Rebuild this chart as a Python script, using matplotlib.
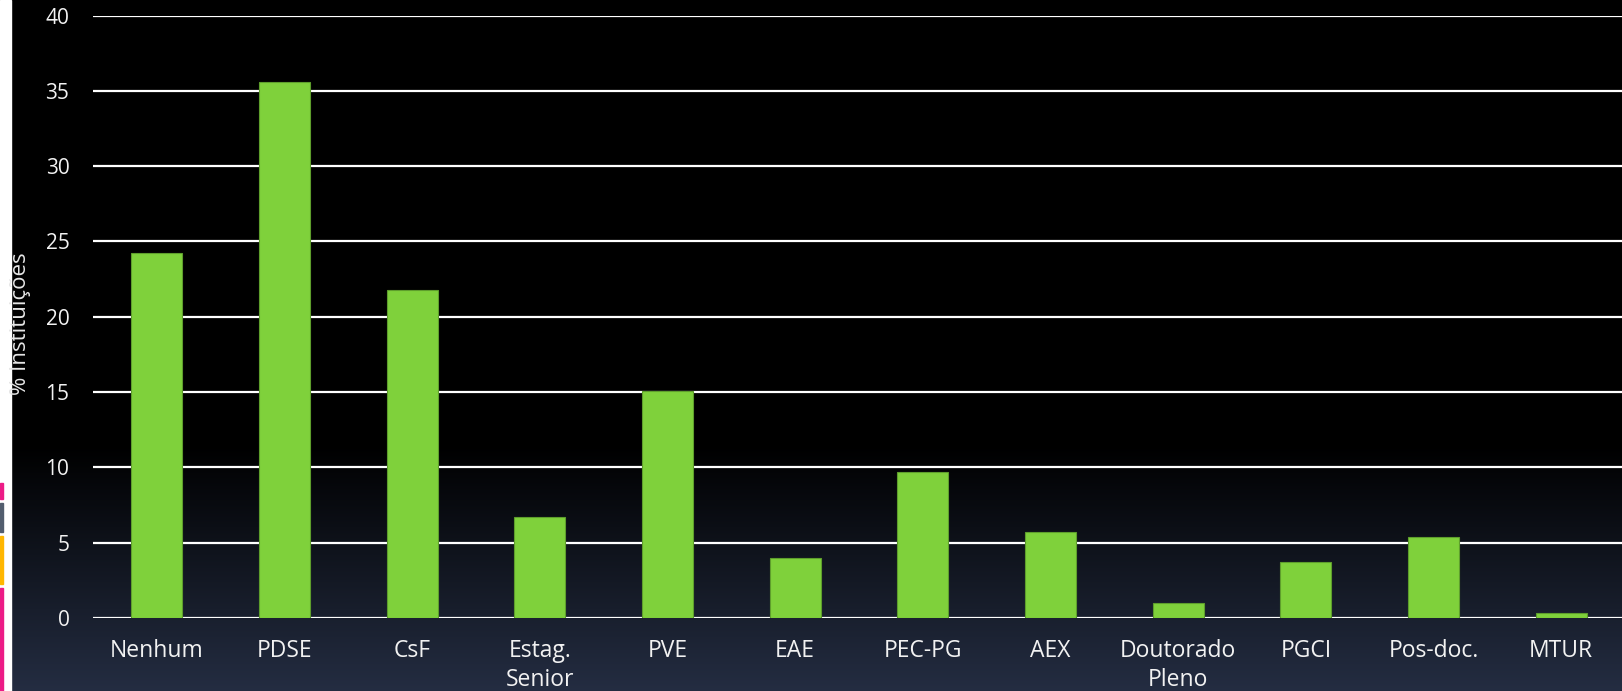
import numpy as np
import matplotlib
matplotlib.use("Agg")
import matplotlib.pyplot as plt
from matplotlib.patches import Rectangle


# ---------- data -----------------------------------------------------------
categories = ["Nenhum", "PDSE", "CsF", "Estag.\nSenior", "PVE", "EAE",
              "PEC-PG", "AEX", "Doutorado\nPleno", "PGCI", "Pos-doc.", "MTUR"]
values = [24.2, 35.6, 21.8, 6.7, 15.1, 4.0, 9.7, 5.7, 1.0, 3.7, 5.4, 0.3]
y_ticks = [0, 5, 10, 15, 20, 25, 30, 35, 40]
y_label = "% Instituições"


# ---------- figure / background -------------------------------------------
W, H = 1622, 691
fig = plt.figure(figsize=(W / 100, H / 100), dpi=100)
fig.patch.set_facecolor("black")
plt.rcParams["font.family"] = ["Open Sans", "DejaVu Sans"]

# vertical gradient: black on top, dark navy at the bottom
rows = np.arange(H)
frac = np.clip((rows - 445) / (H - 445), 0, 1)
bottom_col = np.array([36, 45, 66]) / 255.0
grad = frac[:, None] * bottom_col[None, :]
grad = np.repeat(grad[:, None, :], 2, axis=1)
bg = fig.add_axes([0, 0, 1, 1], zorder=-10)
bg.imshow(grad, aspect="auto", extent=[0, 1, 0, 1], origin="upper")
bg.axis("off")

# white strip + slide accent bars on the left edge
fig.patches.append(Rectangle((0, 0), 11 / W, 1, transform=fig.transFigure,
                             color="white", zorder=-5))
accents = [(483, 499, "#ec1b86"), (503, 532, "#525d6e"),
           (536, 584, "#ffb600"), (588, 691, "#ec1b86")]
for y0, y1, c in accents:
    fig.patches.append(Rectangle((0, 1 - y1 / H), 3 / W, (y1 - y0) / H,
                                 transform=fig.transFigure, color=c, zorder=-4))


# ---------- chart ----------------------------------------------------------
ax_left, ax_right = 93 / W, 1625 / W
ax_bottom, ax_top = 1 - 618 / H, 1 - 15.5 / H
ax = fig.add_axes([ax_left, ax_bottom, ax_right - ax_left, ax_top - ax_bottom])
ax.set_facecolor("none")

x = np.arange(len(categories))
ax.bar(x, values, width=0.4, color="#7fd13b", edgecolor="#5e9e2c",
       linewidth=0.8, zorder=3)

ax.set_xlim(-0.5, len(categories) - 0.5)
ax.set_ylim(0, 40)
ax.set_yticks(y_ticks)
ax.yaxis.grid(True, color="white", linewidth=1.6, zorder=1)
ax.set_axisbelow(True)
for s in ax.spines.values():
    s.set_visible(False)

ax.set_xticks(x)
ax.set_xticklabels(categories, fontsize=16.5, color="#f2f2f2", linespacing=1.3)
ax.tick_params(axis="x", length=0, pad=15)
ax.tick_params(axis="y", length=0, pad=17, labelsize=15, labelcolor="#f2f2f2")

fig.text(21 / W, (ax_bottom + ax_top) / 2 - 0.01, y_label, rotation=90,
         ha="center", va="center", fontsize=16, color="#e6e6e6")

fig.savefig("out.png", dpi=100, facecolor=fig.get_facecolor())
